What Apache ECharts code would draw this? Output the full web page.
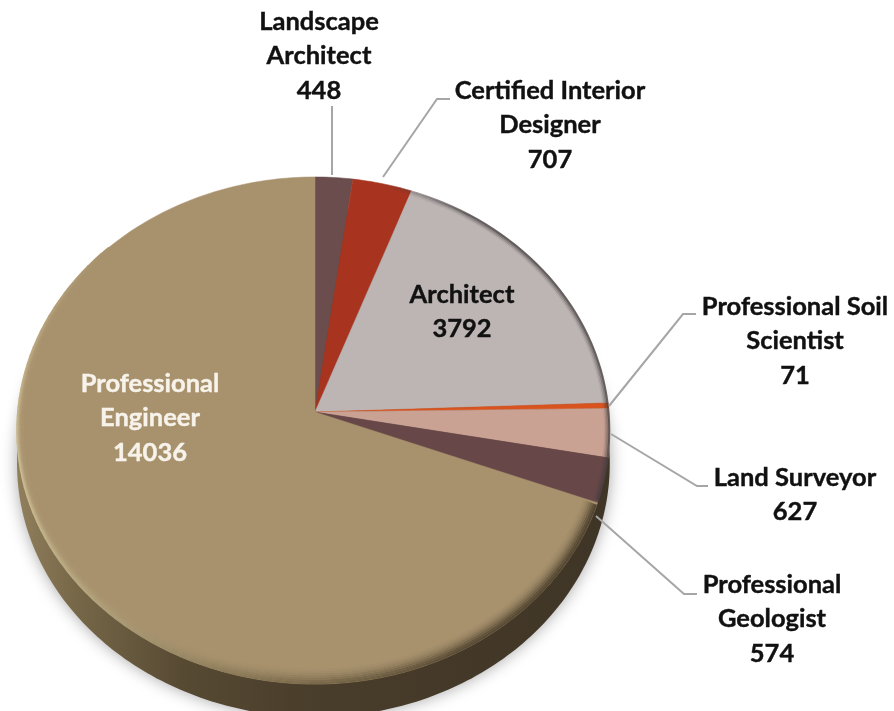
<!DOCTYPE html>
<html>
<head>
<meta charset="utf-8">
<title>Licensees by profession</title>
<style>
  html, body { margin: 0; padding: 0; background: #fff; }
  #chart { width: 894px; height: 711px; }
</style>
<script src="https://cdn.jsdelivr.net/npm/echarts@6/dist/echarts.min.js"></script>
</head>
<body>
<div id="chart"></div>
<script>
// clockwise from 12 o'clock
var categories = ['Landscape\nArchitect', 'Certified Interior\nDesigner', 'Architect', 'Professional Soil\nScientist', 'Land Surveyor', 'Professional\nGeologist', 'Professional\nEngineer']
var values = [448, 707, 3792, 71, 627, 574, 14036]

var sliceColors = ['#6a4d4c', '#a8341f', '#bcb5b4', '#d9531e', '#c9a294', '#684748', '#a8926e']
var labelColors = ['#111', '#111', '#111', '#111', '#111', '#111', '#f7f3ea']
// label centre + leader line, in page px
var labelBox = [
  { x: 319, y: 56, line: [[332, 106], [332, 175]] },
  { x: 550, y: 125, line: [[383, 177], [437, 99], [450, 99]] },
  { x: 462, y: 312 },
  { x: 795, y: 341, line: [[609, 406], [683, 314], [696, 314]] },
  { x: 795, y: 495, line: [[611, 434], [697, 486], [708, 486]] },
  { x: 772, y: 619, line: [[596, 516], [684, 594], [697, 594]] },
  { x: 150, y: 418 }
]

var total = values.reduce(function (a, b) { return a + b }, 0)

// tilted disc: the pie centre sits above the middle of the ellipse
var apexX = 315
var apexY = 412
var scaleLeft = 297.2
var scaleRight = 294
var scaleY = 252.2
var tilt = 0.073
var depth = 33

function rimPoint(deg, inset) {
  var a = deg * Math.PI / 180
  var u = Math.sin(a)
  var v = Math.cos(a)
  var d = 1 + tilt * v
  var sx = u > 0 ? scaleRight : scaleLeft
  return [apexX + (sx - (inset || 0)) * u / d, apexY - (scaleY - (inset || 0)) * v / d]
}

function sliceShape(from, to) {
  var pts = [[apexX, apexY]]
  var steps = Math.max(2, Math.ceil(to - from))
  for (var i = 0; i <= steps; i++) {
    pts.push(rimPoint(from + (to - from) * i / steps))
  }
  return pts
}

function renderWall() {
  var pts = []
  for (var d = 0; d < 360; d += 1) {
    var p = rimPoint(d)
    pts.push([p[0], p[1] + depth])
  }
  return {
    type: 'polygon',
    shape: { points: pts },
    style: {
      fill: new echarts.graphic.LinearGradient(0, 0, 1, 0, [
        { offset: 0, color: '#917f5c' },
        { offset: 0.1, color: '#766748' },
        { offset: 0.28, color: '#574a33' },
        { offset: 0.5, color: '#493d2b' },
        { offset: 1, color: '#3f3526' }
      ]),
      shadowBlur: 16,
      shadowColor: 'rgba(0,0,0,0.35)'
    }
  }
}

function renderSlice(params, api) {
  var i = params.dataIndex
  var before = 0
  for (var k = 0; k < i; k++) before += values[k]
  var from = before / total * 360
  var to = (before + api.value(0)) / total * 360
  return {
    type: 'polygon',
    shape: { points: sliceShape(from, to) },
    style: { fill: sliceColors[i], stroke: sliceColors[i], lineWidth: 0.5 }
  }
}

function clamp01(t) {
  return Math.max(0, Math.min(1, t))
}

// dark at lower right, muddy at the bottom, light at lower left
function bevelColor(d) {
  var stops = [[110, 74, 62, 43], [150, 80, 68, 48], [185, 125, 108, 76], [220, 175, 160, 122], [250, 208, 194, 152], [320, 208, 194, 152]]
  for (var i = 1; i < stops.length; i++) {
    if (d <= stops[i][0]) {
      var a = stops[i - 1]
      var b = stops[i]
      var t = clamp01((d - a[0]) / (b[0] - a[0]))
      return [a[1] + (b[1] - a[1]) * t, a[2] + (b[2] - a[2]) * t, a[3] + (b[3] - a[3]) * t]
    }
  }
  return stops[0].slice(1)
}

var faceRgb = [168, 146, 110]

// soft bevel round the lower part of the disc, and a dark lip on the upper right
function renderBevel() {
  var children = []
  var step = 2
  var rings = [[1, 0.9], [3, 0.8], [5, 0.6], [7, 0.42], [9, 0.26], [11, 0.14], [13, 0.06]]
  rings.forEach(function (r) {
    for (var d = 111; d < 312; d += step) {
      var narrow = 1 - 0.6 * clamp01((d - 185) / 65)
      var fade = r[1] * clamp01((312 - d) / 50)
      var c = bevelColor(d).map(function (v, k) {
        return Math.round(faceRgb[k] + (v - faceRgb[k]) * fade)
      })
      children.push({
        type: 'polyline',
        shape: { points: [rimPoint(d, r[0] * narrow), rimPoint(d + step + 0.2, r[0] * narrow)] },
        style: { fill: null, lineWidth: 2.4, stroke: 'rgb(' + c.join(',') + ')' }
      })
    }
  })
  var lip = [[0.5, 0.7], [2, 0.42], [3.5, 0.22], [5, 0.08]]
  lip.forEach(function (r) {
    var pts = []
    for (var d = 14; d <= 111; d += 2) pts.push(rimPoint(d, r[0]))
    children.push({
      type: 'polyline',
      shape: { points: pts },
      style: {
        fill: null,
        lineWidth: 2,
        stroke: new echarts.graphic.LinearGradient(0, 0, 1, 0, [
          { offset: 0, color: 'rgba(66,60,60,0)' },
          { offset: 0.4, color: 'rgba(66,60,60,' + r[1] + ')' },
          { offset: 1, color: 'rgba(66,60,60,' + r[1] + ')' }
        ])
      }
    })
  })
  return { type: 'group', children: children }
}

function renderLabel(params, api) {
  var i = params.dataIndex
  var box = labelBox[i]
  var children = [{
    type: 'text',
    style: {
      text: categories[i] + '\n' + api.value(0),
      x: box.x,
      y: box.y,
      textAlign: 'center',
      textVerticalAlign: 'middle',
      fontFamily: 'Lato',
      fontWeight: 'bold',
      fontSize: 25.5,
      lineHeight: 34.5,
      fill: labelColors[i],
      stroke: labelColors[i],
      lineWidth: 0.4
    }
  }]
  if (box.line) {
    children.unshift({
      type: 'polyline',
      shape: { points: box.line },
      style: { fill: null, stroke: '#a6a6a6', lineWidth: 2 }
    })
  }
  return { type: 'group', children: children }
}

var chart = echarts.init(document.getElementById('chart'))
chart.setOption({
  backgroundColor: '#fff',
  animation: false,
  series: [
    { type: 'custom', coordinateSystem: 'none', silent: true, z: 1, data: [[total]], renderItem: renderWall },
    { type: 'custom', coordinateSystem: 'none', silent: true, z: 2, data: values.map(function (v) { return [v] }), renderItem: renderSlice },
    { type: 'custom', coordinateSystem: 'none', silent: true, z: 3, data: [[total]], renderItem: renderBevel },
    { type: 'custom', coordinateSystem: 'none', silent: true, z: 4, data: values.map(function (v) { return [v] }), renderItem: renderLabel }
  ]
})
</script>
</body>
</html>
